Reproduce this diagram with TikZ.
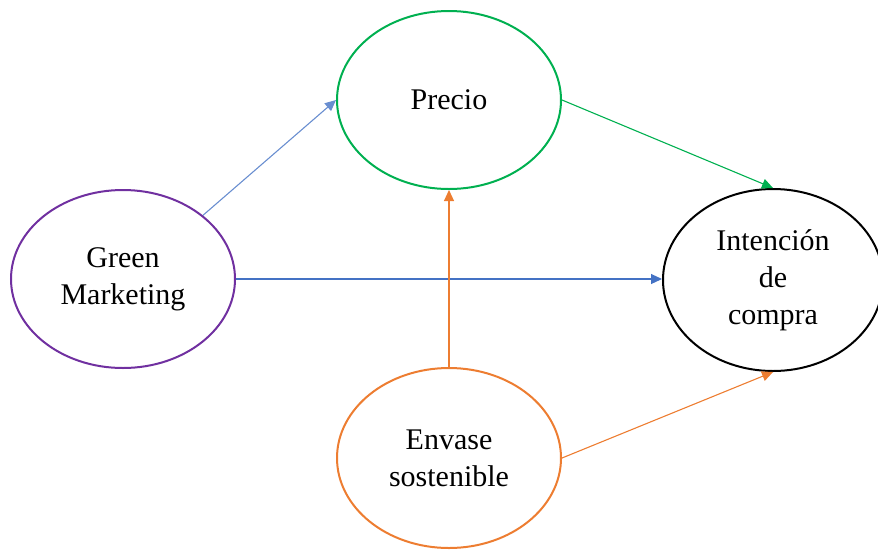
\documentclass[tikz,border=0pt]{standalone}
\usepackage{fontspec}
\setmainfont{Liberation Serif}
\usetikzlibrary{shapes.geometric,arrows.meta}
\definecolor{gmpurple}{RGB}{112,48,160}
\definecolor{prgreen}{RGB}{0,176,80}
\definecolor{envorange}{RGB}{237,125,49}
\definecolor{linkblue}{RGB}{68,114,196}

\begin{document}
\begin{tikzpicture}
          [x = 1pt, y = -1pt, >= {Triangle[length=11pt,width=10pt]},
           var/.style = {ellipse, draw, line width = 2pt, inner sep = 0pt,
                         minimum width = 224pt, minimum height = 178pt,
                         align = center, font = \fontsize{30}{37}\selectfont},
           link/.style = {->, line width = 1.1pt}]
          \useasboundingbox (0,0) rectangle (878,550);
          \node[var, draw = prgreen] (precio) at (449,100) {Precio};
          \node[var, draw = gmpurple] (gm) at (123,279) {Green\\Marketing};
          \node[var, draw = black, minimum width = 220pt, minimum height = 182pt]
                (ic) at (773,280) {Intención\\de\\compra};
          \node[var, draw = envorange, minimum height = 180pt] (env) at (449,458) {Envase\\sostenible};
          \draw[link, linkblue!80] (gm.north east) -- (precio.west);
          \draw[link, linkblue] (gm.east) -- (gm.east -| ic.west);
          \draw[link, prgreen] (precio.east) -- (ic.north);
          \draw[link, envorange] (env.north) -- (precio.south);
          \draw[link, envorange] (env.east) -- (ic.south);
        \end{tikzpicture}
\end{document}
